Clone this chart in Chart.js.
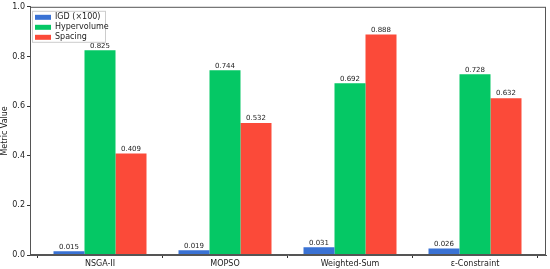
<!DOCTYPE html>
<html>
<head>
<meta charset="utf-8">
<script src="https://cdn.jsdelivr.net/npm/chart.js@4.4.1/dist/chart.umd.min.js"></script>
<style>
  html, body { margin: 0; padding: 0; background: #fff; }
  #wrap { width: 550px; height: 269px; }
</style>
</head>
<body>
<div id="wrap"><canvas id="metricChart" width="550" height="269"></canvas></div>
<script>
// chart data
const algorithms = ['NSGA-II', 'MOPSO', 'Weighted-Sum', 'ε-Constraint'];
const igdValues = [0.015, 0.019, 0.031, 0.026];   // IGD scaled x100
const hvValues = [0.825, 0.744, 0.692, 0.728];
const spacingValues = [0.409, 0.532, 0.888, 0.632];
const seriesNames = ['IGD (×100)', 'Hypervolume', 'Spacing'];
const yTicks = [0, 0.2, 0.4, 0.6, 0.8, 1.0];

const colors = ['#3a72d4', '#05c865', '#fb4a39'];

// bars sit on a linear x axis (index of the algorithm) so the side margins match
const toPoints = vals => vals.map((v, i) => ({ x: i, y: v }));

// value labels above each bar
const barLabels = {
    id: 'barLabels',
    afterDatasetsDraw(chart) {
        const ctx = chart.ctx;
        ctx.save();
        ctx.font = '7px "DejaVu Sans"';
        ctx.fillStyle = '#222';
        ctx.textAlign = 'center';
        ctx.textBaseline = 'bottom';
        chart.data.datasets.forEach((ds, i) => {
            chart.getDatasetMeta(i).data.forEach((bar, j) => {
                ctx.fillText(ds.data[j].y.toFixed(3), bar.x, bar.y - 1);
            });
        });
        ctx.restore();
    }
};

// frame round the plot + legend box in the top-left corner
const frameAndLegend = {
    id: 'frameAndLegend',
    afterDraw(chart) {
        const ctx = chart.ctx;
        const a = chart.chartArea;
        ctx.save();
        ctx.strokeStyle = '#555';
        ctx.lineWidth = 1;
        ctx.strokeRect(a.left + 0.5, a.top + 0.5, a.right - a.left - 1, a.bottom - a.top - 1);

        const lx = a.left + 2, ly = a.top + 4;
        ctx.fillStyle = 'rgba(255,255,255,0.8)';
        ctx.strokeStyle = '#ccc';
        ctx.fillRect(lx, ly, 73, 31);
        ctx.strokeRect(lx + 0.5, ly + 0.5, 73, 31);
        ctx.font = '8px "DejaVu Sans"';
        ctx.textBaseline = 'middle';
        chart.data.datasets.forEach((ds, i) => {
            const y = ly + 6.5 + i * 10;
            ctx.fillStyle = ds.backgroundColor;
            ctx.fillRect(lx + 3, y - 2.5, 16, 5);
            ctx.fillStyle = '#222';
            ctx.fillText(ds.label, lx + 23, y);
        });
        ctx.restore();
    }
};

const ctx = document.getElementById('metricChart').getContext('2d');
const metricChart = new Chart(ctx, {
    type: 'bar',
    data: {
        datasets: [
            { label: seriesNames[0], data: toPoints(igdValues), backgroundColor: colors[0] },
            { label: seriesNames[1], data: toPoints(hvValues), backgroundColor: colors[1] },
            { label: seriesNames[2], data: toPoints(spacingValues), backgroundColor: colors[2] }
        ]
    },
    options: {
        responsive: false,
        animation: false,
        layout: { padding: { top: 3, right: 4, left: 0, bottom: 0 } },
        categoryPercentage: 0.744,
        barPercentage: 1.0,
        plugins: {
            legend: { display: false },
            tooltip: { enabled: false }
        },
        scales: {
            x: {
                type: 'linear',
                offset: false,
                min: -0.56,
                max: 3.568,
                afterBuildTicks(scale) { scale.ticks = algorithms.map((_, i) => ({ value: i })); },
                grid: { drawOnChartArea: false, tickLength: 3, color: '#333' },
                border: { color: '#555' },
                ticks: {
                    color: '#222',
                    font: { family: 'DejaVu Sans', size: 8 },
                    padding: 1,
                    maxRotation: 0,
                    callback: v => algorithms[v]
                },
                afterFit(scale) { scale.height = 14; }
            },
            y: {
                min: 0,
                max: 1.0,
                afterBuildTicks(scale) { scale.ticks = yTicks.map(v => ({ value: v })); },
                grid: { drawOnChartArea: false, tickLength: 3, color: '#333' },
                border: { color: '#555' },
                ticks: {
                    color: '#222',
                    font: { family: 'DejaVu Sans', size: 8 },
                    padding: 2,
                    callback: v => v.toFixed(1)
                },
                title: {
                    display: true,
                    text: 'Metric Value',
                    color: '#222',
                    font: { family: 'DejaVu Sans', size: 8 },
                    padding: { top: 0, bottom: 2 }
                },
                afterFit(scale) { scale.width = 30; }
            }
        }
    },
    plugins: [barLabels, frameAndLegend]
});
</script>
</body>
</html>
